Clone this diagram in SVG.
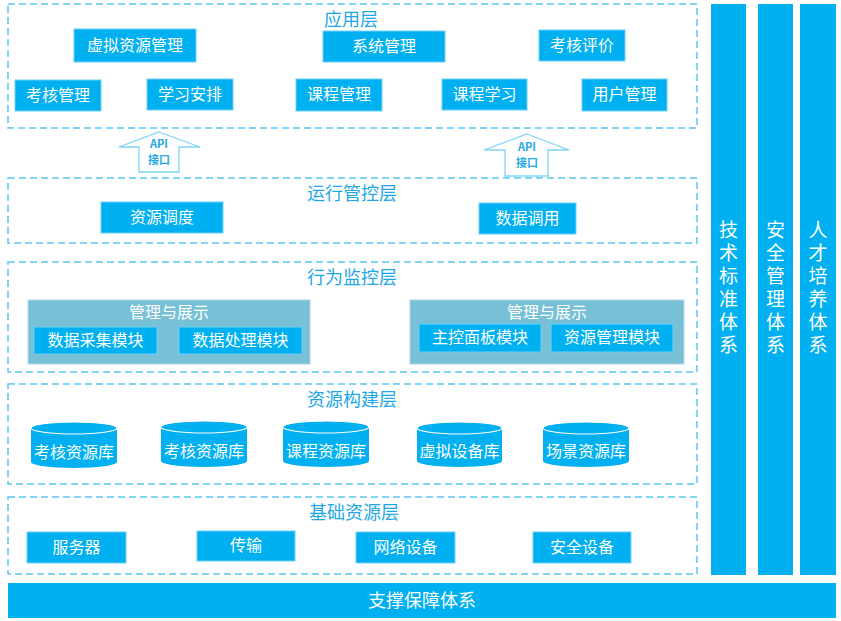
<svg xmlns="http://www.w3.org/2000/svg" width="841" height="621" viewBox="0 0 841 621">
<defs>
<style>
.layer{fill:none;stroke:#5cc6f2;stroke-width:1.5;stroke-dasharray:7 4}
.ttl{font-family:"Noto Sans CJK SC",sans-serif;font-size:18px;fill:#1ea7e6;text-anchor:middle}
.box{fill:#00b0f0;stroke:#6fd0f7;stroke-width:1}
.bt{font-family:"Noto Sans CJK SC",sans-serif;font-size:16px;fill:#ffffff;text-anchor:middle}
.panel{fill:#78c0d5;stroke:#a8d8e6;stroke-width:1}
.cyl{fill:#00b0f0}
.cyltop{fill:#00b0f0;stroke:#ffffff;stroke-width:1.2}
.arrow{fill:#ffffff;stroke:#7fd3f5;stroke-width:1.3}
.api{font-family:"Noto Sans CJK SC",sans-serif;font-size:11px;font-weight:bold;fill:#22a9e6;text-anchor:middle}
.vbar{fill:#00b0f0}
.vt{font-family:"Noto Sans CJK SC",sans-serif;font-size:19px;fill:#ffffff;writing-mode:vertical-rl;letter-spacing:4px}
</style>
</defs>

<g id="app-layer">
<rect class="layer" x="8" y="4" width="689" height="124"/>
<text class="ttl" x="351" y="26">应用层</text>
</g>
<g id="n-xnzygl"><rect class="box" x="74" y="29" width="122" height="33"/><text class="bt" x="135" y="51">虚拟资源管理</text></g>
<g id="n-xtgl"><rect class="box" x="323" y="31" width="122" height="31"/><text class="bt" x="384" y="52">系统管理</text></g>
<g id="n-khpj"><rect class="box" x="539" y="30" width="86" height="31"/><text class="bt" x="582" y="51">考核评价</text></g>
<g id="n-khgl"><rect class="box" x="15" y="80" width="86" height="31"/><text class="bt" x="58" y="101">考核管理</text></g>
<g id="n-xxap"><rect class="box" x="147" y="79" width="86" height="31"/><text class="bt" x="190" y="100">学习安排</text></g>
<g id="n-kcgl"><rect class="box" x="296" y="79" width="86" height="32"/><text class="bt" x="339" y="100">课程管理</text></g>
<g id="n-kcxx"><rect class="box" x="442" y="79" width="85" height="31"/><text class="bt" x="484.5" y="100">课程学习</text></g>
<g id="n-yhgl"><rect class="box" x="582" y="79" width="85" height="32"/><text class="bt" x="624.5" y="100">用户管理</text></g>

<g id="connectors">
<path class="arrow" d="M159,132 L200,147 L179,147 L179,172 L139,172 L139,147 L119,147 Z"/>
<text class="api" x="159" y="148">API</text>
<text class="api" x="159" y="164">接口</text>
<path class="arrow" d="M527,134 L569,150 L548,150 L548,176 L505,176 L505,150 L484,150 Z"/>
<text class="api" x="527" y="151">API</text>
<text class="api" x="527" y="167">接口</text>
</g>

<g id="run-layer">
<rect class="layer" x="8" y="178" width="689" height="65"/>
<text class="ttl" x="352" y="200">运行管控层</text>
</g>
<g id="n-zydd"><rect class="box" x="101" y="202" width="122" height="31"/><text class="bt" x="162" y="223">资源调度</text></g>
<g id="n-sjdy"><rect class="box" x="479" y="203" width="97" height="31"/><text class="bt" x="527.5" y="224">数据调用</text></g>

<g id="monitor-layer">
<rect class="layer" x="8" y="262" width="689" height="110"/>
<text class="ttl" x="352" y="284">行为监控层</text>
</g>
<g id="panel-1">
<rect class="panel" x="28" y="300" width="282" height="64"/>
<text class="bt" x="169" y="318">管理与展示</text>
<rect class="box" x="34" y="327" width="123" height="27"/><text class="bt" x="95.5" y="346">数据采集模块</text>
<rect class="box" x="179" y="327" width="123" height="27"/><text class="bt" x="240.5" y="346">数据处理模块</text>
</g>
<g id="panel-2">
<rect class="panel" x="410" y="300" width="274" height="64"/>
<text class="bt" x="547" y="318">管理与展示</text>
<rect class="box" x="419" y="324" width="122" height="28"/><text class="bt" x="480" y="343">主控面板模块</text>
<rect class="box" x="551" y="324" width="122" height="28"/><text class="bt" x="612" y="343">资源管理模块</text>
</g>

<g id="resource-layer">
<rect class="layer" x="8" y="384" width="689" height="100"/>
<text class="ttl" x="352" y="406">资源构建层</text>
</g>
<g id="db-1"><path class="cyl" d="M31,428 L31,462 A43,6 0 0 0 117,462 L117,428 Z"/><ellipse class="cyltop" cx="74" cy="428" rx="43" ry="6"/><text class="bt" x="74" y="458">考核资源库</text></g>
<g id="db-2"><path class="cyl" d="M161,427 L161,461 A43,6 0 0 0 247,461 L247,427 Z"/><ellipse class="cyltop" cx="204" cy="427" rx="43" ry="6"/><text class="bt" x="204" y="457">考核资源库</text></g>
<g id="db-3"><path class="cyl" d="M283,427 L283,461 A43,6 0 0 0 369,461 L369,427 Z"/><ellipse class="cyltop" cx="326" cy="427" rx="43" ry="6"/><text class="bt" x="326" y="457">课程资源库</text></g>
<g id="db-4"><path class="cyl" d="M417,428 L417,461 A42.5,6 0 0 0 502,461 L502,428 Z"/><ellipse class="cyltop" cx="459.5" cy="428" rx="42.5" ry="6"/><text class="bt" x="459.5" y="457">虚拟设备库</text></g>
<g id="db-5"><path class="cyl" d="M543,428 L543,461 A43,6 0 0 0 629,461 L629,428 Z"/><ellipse class="cyltop" cx="586" cy="428" rx="43" ry="6"/><text class="bt" x="586" y="457">场景资源库</text></g>

<g id="base-layer">
<rect class="layer" x="8" y="497" width="689" height="77"/>
<text class="ttl" x="354" y="519">基础资源层</text>
</g>
<g id="n-fwq"><rect class="box" x="27" y="532" width="99" height="31"/><text class="bt" x="76.5" y="553">服务器</text></g>
<g id="n-cs"><rect class="box" x="197" y="531" width="98" height="30"/><text class="bt" x="246" y="551">传输</text></g>
<g id="n-wlsb"><rect class="box" x="356" y="532" width="99" height="31"/><text class="bt" x="405.5" y="553">网络设备</text></g>
<g id="n-aqsb"><rect class="box" x="533" y="532" width="98" height="31"/><text class="bt" x="582" y="553">安全设备</text></g>

<g id="support-bar">
<rect class="vbar" x="8" y="583" width="828" height="35"/>
<text class="bt" x="422" y="607" style="font-size:18px">支撑保障体系</text>
</g>

<g id="bar-tech">
<rect class="vbar" x="711" y="4" width="35" height="571"/>
<text class="vt" x="728.5" y="220">技术标准体系</text>
</g>
<g id="bar-security">
<rect class="vbar" x="758" y="4" width="35" height="571"/>
<text class="vt" x="775.5" y="220">安全管理体系</text>
</g>
<g id="bar-talent">
<rect class="vbar" x="800" y="4" width="36" height="571"/>
<text class="vt" x="818" y="220">人才培养体系</text>
</g>
</svg>
